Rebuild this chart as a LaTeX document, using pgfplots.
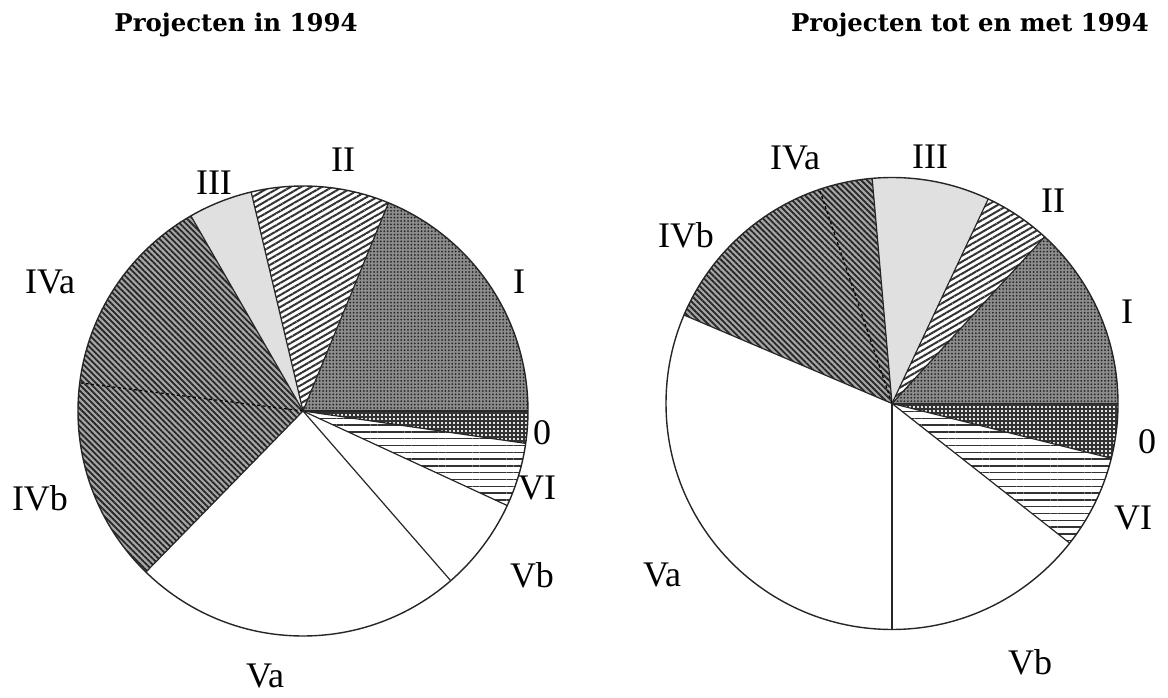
\documentclass[border=0pt]{standalone}
\usepackage{pgfplots}
\usepackage{pgfplotstable}
\pgfplotsset{compat=1.18}
\usepackage{fontspec}
\setmainfont{Liberation Serif}
\newfontfamily\titlefont{DejaVu Serif}
\usetikzlibrary{patterns,patterns.meta}

% shares in percent, counter-clockwise from east
\pgfplotstableread{
label pct
I 18.8
II 9.9
III 4.6
IVa 14.7
IVb 14.7
Va 23.7
Vb 6.7
VI 4.6
O 2.3
}\lefttab

\pgfplotstableread{
label pct
I 13.2
II 4.8
III 8.4
IVa 3.8
IVb 13.4
Va 31.4
Vb 14.4
VI 6.7
O 3.9
}\righttab

\tikzset{
 sl-I/.style={fill=black!45, postaction={pattern={Dots[distance=1.7pt,radius=0.5pt]}, pattern color=black!85}},
 sl-II/.style={fill=white, postaction={pattern={Lines[angle=30,distance=2.6pt,line width=1.0pt]}, pattern color=black!80}},
 sl-III/.style={fill=black!12},
 sl-IVa/.style={fill=black!35, postaction={pattern={Lines[angle=-45,distance=2.1pt,line width=0.9pt]}, pattern color=black!85}},
 sl-IVb/.style={fill=black!35, postaction={pattern={Lines[angle=-45,distance=2.1pt,line width=0.9pt]}, pattern color=black!85}},
 sl-Va/.style={fill=white},
 sl-Vb/.style={fill=white},
 sl-VI/.style={fill=white, postaction={pattern={Lines[angle=0,distance=3.4pt,line width=0.7pt]}, pattern color=black!80}},
 sl-O/.style={fill=black!10,
              postaction={pattern={Lines[angle=0,distance=2.0pt,line width=0.55pt]}, pattern color=black!80},
              postaction={pattern={Lines[angle=90,distance=2.0pt,line width=0.55pt]}, pattern color=black!80}},
 lab/.style={font=\fontsize{18}{18}\selectfont},
 ttl/.style={font=\titlefont\bfseries\fontsize{12.2}{13}\selectfont},
}

% #1 table, #2 cx, #3 cy (axis units = px), #4 radius in pt
\newcommand\drawpie[4]{%
 \pgfplotstablegetrowsof{#1}\pgfmathtruncatemacro\lastrow{\pgfplotsretval-1}%
 \gdef\acc{0}%
 \foreach \i in {0,...,\lastrow}{%
   \pgfplotstablegetelem{\i}{pct}\of{#1}\let\v\pgfplotsretval
   \pgfplotstablegetelem{\i}{label}\of{#1}\let\lab\pgfplotsretval
   \pgfmathsetmacro\a{\acc}\pgfmathsetmacro\b{\acc+3.6*\v}%
   \edef\doit{\noexpand\fill[sl-\lab]}%
   \doit (axis cs:#2,#3) -- ++(\a:#4) arc[start angle=\a,end angle=\b,radius=#4] -- cycle;
   \xdef\acc{\b}%
 }%
 \gdef\acc{0}%
 \foreach \i in {0,...,\lastrow}{%
   \pgfplotstablegetelem{\i}{pct}\of{#1}\let\v\pgfplotsretval
   \pgfplotstablegetelem{\i}{label}\of{#1}\let\lab\pgfplotsretval
   \pgfmathsetmacro\a{\acc}%
   \edef\tmp{\lab}\def\ivb{IVb}%
   \ifx\tmp\ivb
     \draw[black, line width=0.6pt, dash pattern=on 1.5pt off 1.2pt] (axis cs:#2,#3) -- ++(\a:#4);
   \else
     \draw[black!85, line width=0.6pt] (axis cs:#2,#3) -- ++(\a:#4);
   \fi
   \pgfmathsetmacro\b{\acc+3.6*\v}\xdef\acc{\b}%
 }%
 \draw[black!85, line width=0.7pt] (axis cs:#2,#3) circle[radius=#4];
}

\begin{document}
\begin{tikzpicture}
\begin{axis}[
  x=0.5pt, y=0.5pt,
  xmin=0, xmax=1168, ymin=0, ymax=697,
  hide axis, clip=false,
]
\addplot[draw=none] coordinates {(0,0) (1168,697)};
\pgfplotsextra{
  \coordinate (ll) at (axis cs:0,0);
  \coordinate (ur) at (axis cs:1168,697);
  \drawpie{\lefttab}{303}{286}{112.5pt}
  \drawpie{\righttab}{892}{293.5}{113pt}
  % titles
  \node[ttl] at (axis cs:236,672) {Projecten in 1994};
  \node[ttl] at (axis cs:970,672) {Projecten tot en met 1994};
  % left labels
  \node[lab] at (axis cs:343,537) {II};
  \node[lab] at (axis cs:214,514) {III};
  \node[lab] at (axis cs:519,415) {I};
  \node[lab] at (axis cs:50,415) {IVa};
  \node[lab] at (axis cs:542,264) {0};
  \node[lab] at (axis cs:537,209) {VI};
  \node[lab] at (axis cs:40,199) {IVb};
  \node[lab] at (axis cs:532,122) {Vb};
  \node[lab] at (axis cs:265,21) {Va};
  % right labels
  \node[lab] at (axis cs:795,539) {IVa};
  \node[lab] at (axis cs:930,540) {III};
  \node[lab] at (axis cs:1053,496) {II};
  \node[lab] at (axis cs:686,462) {IVb};
  \node[lab] at (axis cs:1127,385) {I};
  \node[lab] at (axis cs:1147,255) {0};
  \node[lab] at (axis cs:1133,179) {VI};
  \node[lab] at (axis cs:662,122) {Va};
  \node[lab] at (axis cs:1030,35) {Vb};
}
\end{axis}
\pgfresetboundingbox
\path (ll) rectangle (ur);
\end{tikzpicture}
\end{document}
